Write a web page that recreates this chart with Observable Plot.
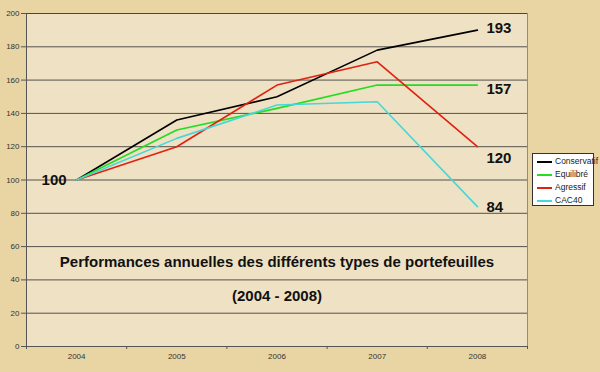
<!DOCTYPE html>
<html><head><meta charset="utf-8">
<script src="https://cdn.jsdelivr.net/npm/d3@7"></script>
<script src="https://cdn.jsdelivr.net/npm/@observablehq/plot@0.6"></script>
<style>
body{margin:0;background:#e9d5a3;}
#chart{position:relative;width:600px;height:372px;overflow:hidden;background:#e9d5a3;}
#chart svg{position:absolute;left:0;top:0;}
#legend{position:absolute;left:532px;top:153px;width:62px;height:53px;background:#fff;border:1px solid #333;box-sizing:border-box;font:8.5px "Liberation Sans",Arial,sans-serif;color:#222;padding-top:1px;}
#legend div{height:13px;line-height:13px;white-space:nowrap;}
#legend span.sw{display:inline-block;width:15px;height:0;border-top:2px solid;vertical-align:middle;margin:0 3px 0 4px;}
</style></head><body><div id="chart"></div>
<script>
const years = [2004, 2005, 2006, 2007, 2008];
const series = ["Conservatif", "Equilibré", "Agressif", "CAC40"];
const colors = ["#000000", "#22dd22", "#e02010", "#44d8d8"];
const conservatif = [100, 136, 150, 178, 190];
const equilibre = [100, 130, 143, 157, 157];
const agressif = [100, 120, 157, 171, 120];
const cac40 = [100, 125, 145, 147, 84];
const endLabels = ["193", "157", "120", "84"];
const startLabel = "100";
const yTicks = d3.range(0, 201, 20);
const title = "Performances annuelles des différents types de portefeuilles";
const subtitle = "(2004 - 2008)";

const values = [conservatif, equilibre, agressif, cac40];
const data = [];
series.forEach((s, i) => years.forEach((y, j) => data.push({series: s, year: y, value: values[i][j]})));
const last = years.length - 1;
const lastPts = series.map((s, i) => ({series: s, year: years[last], value: values[i][last], label: endLabels[i]}));
const firstPt = [{year: years[0], value: values[0][0], label: startLabel}];
const xDomain = [years[0] - 0.5, years[last] + 0.5];
const bounds = d3.range(xDomain[0], xDomain[1] + 0.01, 1);
const labelDy = [-2, 4, 11, 1];
const font = "'Liberation Sans', Arial, sans-serif";

const chart = Plot.plot({
  width: 600, height: 372,
  marginLeft: 26, marginRight: 73, marginTop: 13, marginBottom: 26,
  style: {background: "transparent", fontFamily: font},
  x: {domain: xDomain, type: "linear"},
  y: {domain: [0, 200]},
  color: {domain: series, range: colors},
  marks: [
    Plot.frame({fill: "#efe1c3", stroke: "#8c8c8c"}),
    Plot.gridY(yTicks, {stroke: "#3a3a3a", strokeOpacity: 0.85, strokeWidth: 1}),
    Plot.ruleX([xDomain[0]], {stroke: "#555", strokeWidth: 1}),
    Plot.ruleY([0], {stroke: "#555", strokeWidth: 1}),
    Plot.axisY({ticks: yTicks, tickSize: 5, tickPadding: 2, fontSize: 8, fill: "#333", stroke: "#555", label: null}),
    Plot.axisX({ticks: bounds, tickSize: 3, tickFormat: () => "", stroke: "#555", label: null}),
    Plot.axisX({ticks: years, tickSize: 0, tickPadding: 7, tickFormat: "d", fontSize: 8, fill: "#333", label: null}),
    Plot.line(data, {x: "year", y: "value", z: "series", stroke: "series", strokeWidth: 1.6}),
    ...lastPts.map((p, i) => Plot.text([p], {x: "year", y: "value", text: "label", dx: 9, dy: labelDy[i], textAnchor: "start", fontSize: 15, fontWeight: "bold", fill: "#111"})),
    Plot.text(firstPt, {x: "year", y: "value", text: "label", dx: -10, textAnchor: "end", fontSize: 15, fontWeight: "bold", fill: "#111"}),
    Plot.text([title], {frameAnchor: "top", dy: 243, fontSize: 15, fontWeight: "bold", fill: "#111"}),
    Plot.text([subtitle], {frameAnchor: "top", dy: 277, fontSize: 15, fontWeight: "bold", fill: "#111"})
  ]
});
const host = document.getElementById("chart");
host.appendChild(chart);
const legend = document.createElement("div");
legend.id = "legend";
series.forEach((s, i) => {
  const row = document.createElement("div");
  const sw = document.createElement("span");
  sw.className = "sw"; sw.style.borderTopColor = colors[i];
  row.appendChild(sw);
  row.appendChild(document.createTextNode(s));
  legend.appendChild(row);
});
host.appendChild(legend);
</script></body></html>
